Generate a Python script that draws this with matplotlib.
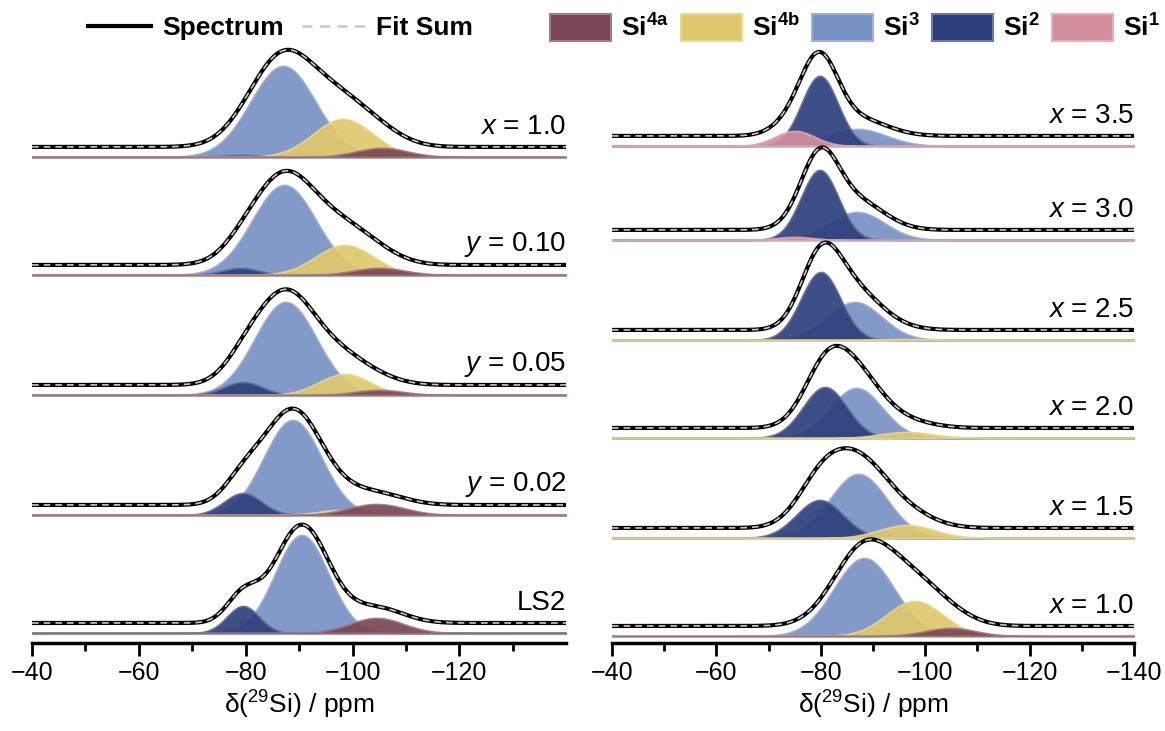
import numpy as np
import matplotlib
matplotlib.use('Agg')
import matplotlib.pyplot as plt
from matplotlib.lines import Line2D
from matplotlib.patches import Patch
from matplotlib.colors import to_rgb

plt.rcParams['font.family'] = ['Liberation Sans', 'DejaVu Sans']
plt.rcParams['mathtext.fontset'] = 'custom'
plt.rcParams['mathtext.rm'] = 'Liberation Sans'
plt.rcParams['mathtext.it'] = 'Liberation Sans:italic'
plt.rcParams['mathtext.bf'] = 'Liberation Sans:bold'

# fit components per sample: (centre / ppm, height / a.u., sigma / ppm); height 0 = not present
left_labels = ['$x$ = 1.0', '$y$ = 0.10', '$y$ = 0.05', '$y$ = 0.02', 'LS2']
left_si4a = [(-105.5, 9, 4.8), (-105.0, 7, 4.8), (-105.0, 5, 4.5), (-104.5, 11, 5.2), (-104.5, 15, 5.0)]
left_si4b = [(-98.2, 38, 5.6), (-98.5, 30, 5.4), (-98.5, 21, 4.8), (-98.0, 5, 4.5), (-98.0, 0, 4.5)]
left_si3 = [(-87.0, 91, 6.1), (-87.2, 90, 6.0), (-87.5, 93, 5.8), (-88.8, 95, 5.4), (-90.5, 98, 5.0)]
left_si2 = [(-79.0, 2, 3.5), (-79.0, 7, 3.5), (-79.5, 13, 3.6), (-79.5, 22, 3.5), (-79.5, 27, 3.0)]
left_si1 = [(-75.0, 0, 3.5)] * 5

right_labels = ['$x$ = 3.5', '$x$ = 3.0', '$x$ = 2.5', '$x$ = 2.0', '$x$ = 1.5', '$x$ = 1.0']
right_si4a = [(-105, 0, 4.5), (-105, 0, 4.5), (-105, 0, 4.5), (-105, 0, 4.5), (-105, 0, 4.5), (-104.8, 8, 4.8)]
right_si4b = [(-96, 0, 4), (-96, 0, 4), (-96.0, 1, 4.0), (-96.5, 6, 5.0), (-96.5, 13, 5.2), (-98.0, 35, 5.4)]
right_si3 = [(-87.0, 17, 5.5), (-87.0, 28, 5.2), (-86.5, 38, 5.2), (-86.8, 50, 5.0), (-87.2, 64, 5.5), (-88.3, 78, 5.8)]
right_si2 = [(-79.8, 70, 3.5), (-79.8, 70, 3.6), (-80.0, 68, 3.8), (-80.8, 51, 4.2), (-79.8, 38, 4.5), (-80, 0, 4)]
right_si1 = [(-75.0, 15, 3.8), (-75.0, 3, 3.5), (-75, 0, 3.5), (-75, 0, 3.5), (-75, 0, 3.5), (-75, 0, 3.5)]

colors = {'Si4a': '#7b4553', 'Si4b': '#dfc86c', 'Si3': '#7890c4',
          'Si2': '#2d3f7c', 'Si1': '#d48f9f'}
legend_names = {'Si4a': r'Si$^{\mathbf{4a}}$', 'Si4b': r'Si$^{\mathbf{4b}}$',
                'Si3': r'Si$^{\mathbf{3}}$', 'Si2': r'Si$^{\mathbf{2}}$', 'Si1': r'Si$^{\mathbf{1}}$'}

ppm = np.linspace(-40, -140, 1201)


def gauss(p):
    c, h, s = p
    return h * np.exp(-0.5 * ((ppm - c) / s) ** 2)


def lighter(c, f=0.45):
    r = np.array(to_rgb(c))
    return tuple(r + (1 - r) * f)


def draw_panel(ax, labels, comps, offsets):
    for i, lab in enumerate(labels):
        off = offsets[i]
        total = np.zeros_like(ppm)
        for name in ['Si3', 'Si2', 'Si1', 'Si4b', 'Si4a']:
            p = comps[name][i]
            if p[1] <= 0:
                continue
            g = gauss(p)
            total += g
            ax.fill_between(ppm, off, off + g, facecolor=colors[name],
                            edgecolor=lighter(colors[name], 0.25), lw=1.2, alpha=0.92)
        # spectrum and fit sum shown slightly above the components
        ax.plot(ppm, off + 10 + total, color='black', lw=3.0)
        ax.plot(ppm, off + 10 + total, color='#c8c8c8', lw=1.2, dashes=(4, 3))
        ax.text(-140, off + 30, lab, ha='right', va='center', fontsize=20)


fig = plt.figure(figsize=(11.65, 7.31), dpi=100)
ax1 = fig.add_axes([0.0275, 0.1204, 0.4585, 0.825])
ax2 = fig.add_axes([0.5253, 0.1204, 0.4481, 0.825])

left_comps = {'Si4a': left_si4a, 'Si4b': left_si4b, 'Si3': left_si3, 'Si2': left_si2, 'Si1': left_si1}
right_comps = {'Si4a': right_si4a, 'Si4b': right_si4b, 'Si3': right_si3, 'Si2': right_si2, 'Si1': right_si1}

draw_panel(ax1, left_labels, left_comps, [486, 368, 248, 128, 10])
draw_panel(ax2, right_labels, right_comps, [497, 403, 303, 205, 105, 7])

for ax in (ax1, ax2):
    ax.set_xlim(-40, -140)
    ax.set_ylim(0, 603)
    ax.set_yticks([])
    for s in ['left', 'right', 'top']:
        ax.spines[s].set_visible(False)
    ax.spines['bottom'].set_linewidth(2.5)
    ax.set_xticks([-50, -70, -90, -110, -130], minor=True)
    ax.tick_params(axis='x', which='major', length=9, width=2, labelsize=18, pad=4)
    ax.tick_params(axis='x', which='minor', length=6, width=2)
    ax.set_xlabel(r'δ($^{29}$Si) / ppm', fontsize=19, labelpad=3)

ax1.set_xticks([-40, -60, -80, -100, -120])
ax2.set_xticks([-40, -60, -80, -100, -120, -140])
ax1.set_xticklabels(['\u221240', '\u221260', '\u221280', '\u2212100', '\u2212120'])
ax2.set_xticklabels(['\u221240', '\u221260', '\u221280', '\u2212100', '\u2212120', '\u2212140'])

line_handles = [Line2D([], [], color='black', lw=3.0),
                Line2D([], [], color='#c8c8c8', lw=1.8, dashes=(4, 3))]
fig.legend(line_handles, ['Spectrum', 'Fit Sum'], loc='center left',
           bbox_to_anchor=(0.0755, 0.962), ncol=2, frameon=False,
           prop={'weight': 'bold', 'size': 19}, borderpad=0, borderaxespad=0,
           handlelength=2.4, handletextpad=0.4, columnspacing=0.7)

patch_handles = []
patch_labels = []
for name in ['Si4a', 'Si4b', 'Si3', 'Si2', 'Si1']:
    patch_handles.append(Patch(facecolor=colors[name], edgecolor=lighter(colors[name], 0.3), lw=1.5))
    patch_labels.append(legend_names[name])
fig.legend(patch_handles, patch_labels, loc='center right',
           bbox_to_anchor=(0.9957, 0.962), ncol=5, frameon=False,
           prop={'weight': 'bold', 'size': 19}, borderpad=0, borderaxespad=0,
           handlelength=2.3, handleheight=1.15, handletextpad=0.4, columnspacing=0.45)

fig.savefig('out.png', dpi=100)
